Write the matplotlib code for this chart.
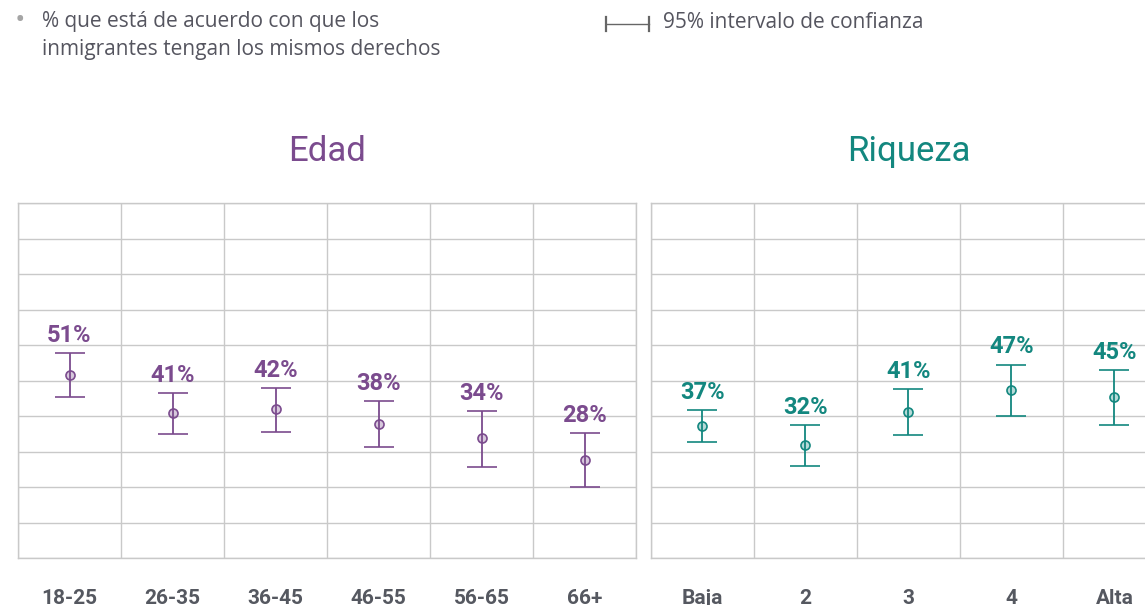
import numpy as np
import matplotlib
matplotlib.use("Agg")
import matplotlib.pyplot as plt
from matplotlib.lines import Line2D

# datos
edad_cats = ["18-25", "26-35", "36-45", "46-55", "56-65", "66+"]
edad_vals = [51, 41, 42, 38, 34, 28]
edad_pts = [51.5, 40.8, 42.0, 37.7, 33.8, 27.6]
edad_low = [45.4, 34.9, 35.5, 31.3, 25.6, 20.0]
edad_high = [57.7, 46.5, 47.9, 44.2, 41.4, 35.2]

riq_cats = ["Baja", "2", "3", "4", "Alta"]
riq_vals = [37, 32, 41, 47, 45]
riq_pts = [37.2, 31.7, 41.2, 47.2, 45.3]
riq_low = [32.6, 25.9, 34.6, 40.1, 37.5]
riq_high = [41.7, 37.5, 47.7, 54.5, 52.9]

PURPLE = "#7b4b8e"
TEAL = "#13877f"
GRID = "#c9c9c9"
LABEL = "#555860"
LEG = "#55555f"

W, H = 1145, 605
fig = plt.figure(figsize=(W / 100, H / 100), dpi=100)


def panel(rect, cats, vals, pts, low, high, color, title):
    ax = fig.add_axes(rect)
    n = len(cats)
    x = np.arange(n)
    pts = np.array(pts)
    yerr = [pts - np.array(low), np.array(high) - pts]
    ax.errorbar(x, pts, yerr=yerr, fmt="o", color=color, ecolor=color,
                elinewidth=1.3, capsize=11, capthick=1.3, markersize=6.5,
                markerfacecolor=matplotlib.colors.to_rgba(color, 0.3),
                markeredgecolor=color, markeredgewidth=1.2, zorder=3)
    for xi, v, hi in zip(x, vals, high):
        ax.annotate(f"{v}%", (xi, hi), xytext=(0, 8), textcoords="offset points",
                    ha="center", va="baseline", color=color, fontsize=17,
                    fontweight="bold", family="Roboto")
    ax.set_xlim(-0.5, n - 0.5)
    ax.set_ylim(0, 100)
    ax.set_yticks(np.arange(0, 101, 10))
    ax.set_xticks(np.arange(-0.5, n), minor=True)
    ax.set_xticks(x)
    ax.set_xticklabels(cats, fontsize=15, fontweight="bold", family="Roboto",
                       color=LABEL)
    ax.tick_params(axis="both", which="both", length=0)
    ax.tick_params(axis="x", pad=22)
    ax.set_yticklabels([])
    ax.grid(True, axis="y", which="major", color=GRID, lw=1)
    ax.grid(True, axis="x", which="minor", color=GRID, lw=1)
    for s in ax.spines.values():
        s.set_color(GRID)
        s.set_linewidth(1)
    ax.set_title(title, color=color, fontsize=25, family="Roboto", pad=30)
    return ax


bottom = (H - 558) / H
height = 355 / H
panel([18 / W, bottom, 618 / W, height], edad_cats, edad_vals, edad_pts,
      edad_low, edad_high, PURPLE, "Edad")
panel([651 / W, bottom, 515 / W, height], riq_cats, riq_vals, riq_pts,
      riq_low, riq_high, TEAL, "Riqueza")

# leyenda
fig.text(20 / W, 1 - 21 / H, "•", color="#a5a5a5", fontsize=20,
         ha="center", va="center", family="Open Sans")
fig.text(42 / W, 1 - 22 / H, "% que está de acuerdo con que los",
         color=LEG, fontsize=15, ha="left", va="center", family="Open Sans")
fig.text(42 / W, 1 - 50 / H, "inmigrantes tengan los mismos derechos",
         color=LEG, fontsize=15, ha="left", va="center", family="Open Sans")
fig.add_artist(Line2D([606 / W, 649 / W], [1 - 24 / H] * 2, color="#666",
                      lw=1, transform=fig.transFigure))
for xx in (606, 649):
    fig.add_artist(Line2D([xx / W] * 2, [1 - 17 / H, 1 - 31 / H], color="#666",
                          lw=1.6, transform=fig.transFigure))
fig.text(663 / W, 1 - 23 / H, "95% intervalo de confianza", color=LEG,
         fontsize=15, ha="left", va="center", family="Open Sans")

fig.savefig("out.png", dpi=100)
